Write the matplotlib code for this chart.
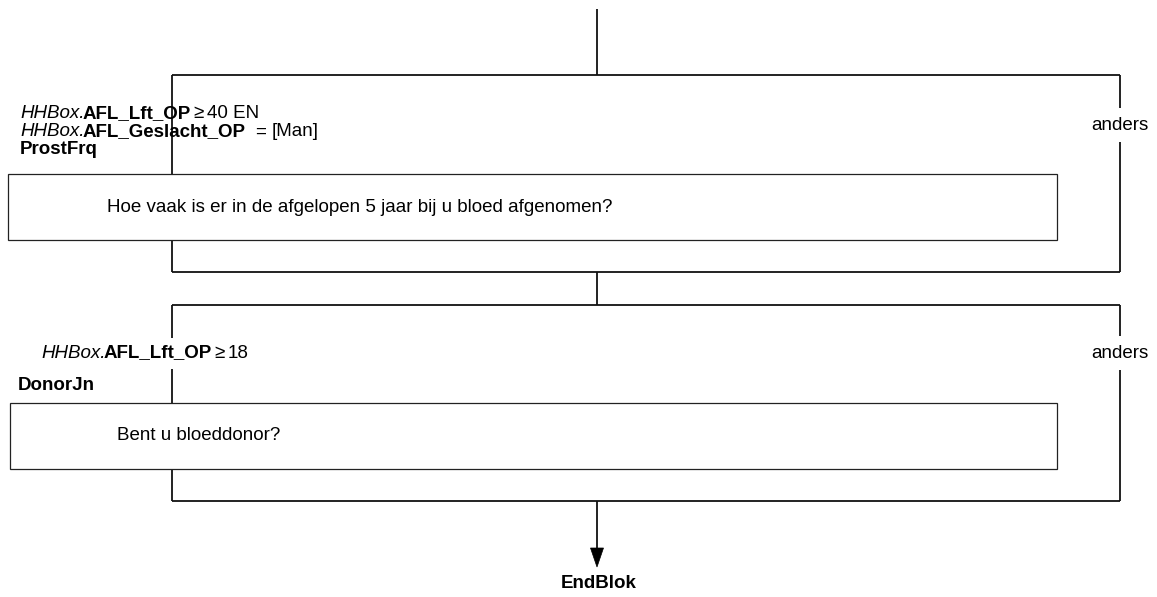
import matplotlib
matplotlib.use("Agg")
import matplotlib.pyplot as plt
from matplotlib.patches import Rectangle, Polygon

# ---- content ----
cond1_line1 = [("HHBox.", "italic", "normal", 0), ("AFL_Lft_OP", "normal", "bold", -2),
               ("\u2265", "normal", "normal", 3), ("40 EN", "normal", "normal", 3)]
cond1_line2 = [("HHBox.", "italic", "normal", 0), ("AFL_Geslacht_OP", "normal", "bold", -2),
               ("=", "normal", "normal", 10), ("[Man]", "normal", "normal", 5)]
cond2_line1 = [("HHBox.", "italic", "normal", 0), ("AFL_Lft_OP", "normal", "bold", -2),
               ("\u2265", "normal", "normal", 3), ("18", "normal", "normal", 3)]
question_names = ["ProstFrq", "DonorJn"]
question_texts = ["Hoe vaak is er in de afgelopen 5 jaar bij u bloed afgenomen?", "Bent u bloeddonor?"]
else_label = "anders"
end_label = "EndBlok"

W, H = 1157, 597
fig = plt.figure(figsize=(W / 100, H / 100), dpi=100)
ax = fig.add_axes([0, 0, 1, 1])
ax.set_xlim(0, W)
ax.set_ylim(H, 0)
ax.axis("off")

FONT = "Liberation Sans"
FS = 13.5
LC = "#111111"
LW = 1.3

def line(x0, y0, x1, y1, lw=LW):
    ax.plot([x0, x1], [y0, y1], color=LC, lw=lw, solid_capstyle="butt", zorder=1)

renderer = fig.canvas.get_renderer()

def rich(x, y, parts):
    for s, style, weight, gap in parts:
        x += gap
        t = ax.text(x, y, s, fontsize=FS, family=[FONT, "DejaVu Sans"], style=style,
                    weight=weight, va="center", ha="left", color="black", zorder=3)
        bb = t.get_window_extent(renderer)
        x = bb.x1  # display px == data px

cx = 597
left, right = 172, 1120

# top entry line
line(cx, 9, cx, 75)

# block 1
b1_top, b1_bot = 75, 272
line(left, b1_top, right, b1_top)
line(left, b1_bot, right, b1_bot)
line(left, b1_top, left, 174)
line(left, 240, left, b1_bot)
line(right, b1_top, right, 108)
line(right, 142, right, b1_bot)
ax.text(right, 125, else_label, fontsize=FS, family=FONT, ha="center", va="center")
rich(20, 114, cond1_line1)
rich(20, 132, cond1_line2)
ax.text(20, 150, question_names[0], fontsize=FS, family=FONT, weight="bold", ha="left", va="center")
ax.add_patch(Rectangle((8, 174), 1057 - 8, 240 - 174, fill=False, ec="#222222", lw=0.9, zorder=2))
ax.text(107, 207, question_texts[0], fontsize=FS, family=FONT, ha="left", va="center")

# connector
line(cx, b1_bot, cx, 305)

# block 2
b2_top, b2_bot = 305, 501
line(left, b2_top, right, b2_top)
line(left, b2_bot, right, b2_bot)
line(left, b2_top, left, 338)
line(left, 369, left, 403)
line(left, 469, left, b2_bot)
line(right, b2_top, right, 336)
line(right, 370, right, b2_bot)
ax.text(right, 353, else_label, fontsize=FS, family=FONT, ha="center", va="center")
rich(41, 353, cond2_line1)
ax.text(18, 385, question_names[1], fontsize=FS, family=FONT, weight="bold", ha="left", va="center")
ax.add_patch(Rectangle((10, 403), 1057 - 10, 469 - 403, fill=False, ec="#222222", lw=0.9, zorder=2))
ax.text(117, 435, question_texts[1], fontsize=FS, family=FONT, ha="left", va="center")

# exit arrow
line(cx, b2_bot, cx, 548)
ax.add_patch(Polygon([[cx - 6.5, 548], [cx + 6.5, 548], [cx, 567]], closed=True, fc="black", ec="black", lw=0.5))
ax.text(cx + 2, 583, end_label, fontsize=FS, family=FONT, weight="bold", ha="center", va="center")

fig.savefig("out.png", dpi=100, facecolor="white")
